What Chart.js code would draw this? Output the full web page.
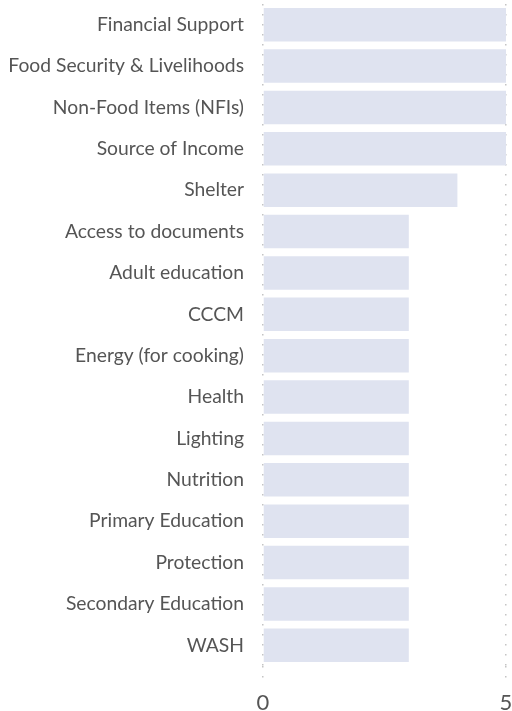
<!DOCTYPE html>
<html>
<head>
<meta charset="utf-8">
<script src="https://cdn.jsdelivr.net/npm/chart.js@4"></script>
<style>
  html, body { margin: 0; padding: 0; background: #fff; }
  #wrap { width: 512px; height: 711px; }
</style>
</head>
<body>
<div id="wrap"><canvas id="chart"></canvas></div>
<script>
// categories and values
const categories = [
    "Financial Support",
    "Food Security & Livelihoods",
    "Non-Food Items (NFIs)",
    "Source of Income",
    "Shelter",
    "Access to documents",
    "Adult education",
    "CCCM",
    "Energy (for cooking)",
    "Health",
    "Lighting",
    "Nutrition",
    "Primary Education",
    "Protection",
    "Secondary Education",
    "WASH",
];
const counts = [5, 5, 5, 5, 4, 3, 3, 3, 3, 3, 3, 3, 3, 3, 3, 3];
const xTicks = [0, 5];

const labelColor = "#555555";
const barColor = "#dfe3f0";

new Chart(document.getElementById("chart").getContext("2d"), {
    type: "bar",
    data: {
        labels: categories,
        datasets: [{
            data: counts,
            backgroundColor: barColor,
            borderWidth: 0,
            barPercentage: 0.9,
            categoryPercentage: 0.9,
        }],
    },
    options: {
        indexAxis: "y",
        responsive: true,
        maintainAspectRatio: false,
        animation: false,
        layout: { padding: { top: 4, right: 6, left: 0, bottom: 0 } },
        plugins: {
            legend: { display: false },
            tooltip: { enabled: false },
        },
        scales: {
            x: {
                min: 0,
                max: 5,
                afterBuildTicks: (axis) => {
                    axis.ticks = xTicks.map(v => ({ value: v }));
                },
                afterFit: (axis) => {
                    axis.paddingLeft = 0;
                    axis.paddingRight = 0;
                    axis.height = 45;
                },
                ticks: {
                    color: labelColor,
                    font: { family: "Lato", size: 22 },
                    padding: 10,
                    maxRotation: 0,
                },
                grid: {
                    color: "#c4c4c4",
                    lineWidth: 1.5,
                    tickLength: 14,
                    tickBorderDash: [1.5, 8.5],
                },
                border: { display: false, dash: [1.5, 8.5] },
            },
            y: {
                afterFit: (axis) => {
                    axis.paddingTop = 0;
                    axis.paddingBottom = 0;
                    axis.width = 263;
                },
                ticks: {
                    color: labelColor,
                    font: { family: "Lato", size: 19.3 },
                    padding: 11,
                },
                grid: { display: false },
                border: { display: false },
            },
        },
    },
});
</script>
</body>
</html>
